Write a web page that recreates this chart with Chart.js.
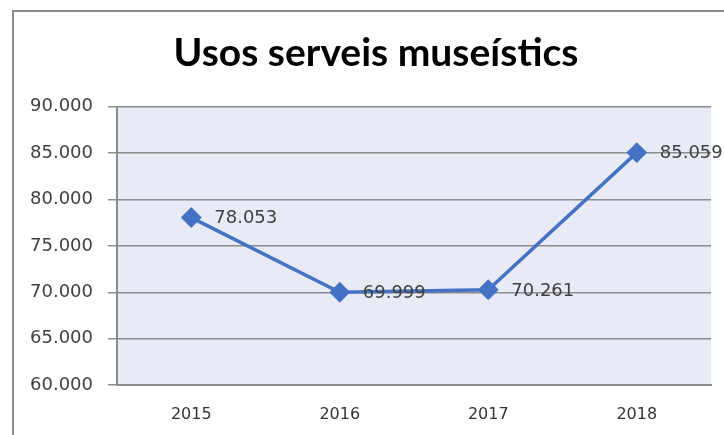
<!DOCTYPE html>
<html>
<head>
<meta charset="utf-8">
<script src="https://cdn.jsdelivr.net/npm/chart.js@4.4.0/dist/chart.umd.min.js"></script>
<style>
  html, body { margin: 0; padding: 0; background: #fff; overflow: hidden; }
  .frame {
    position: absolute; left: 12px; top: 10px; width: 740px; height: 460px;
    border: 2px solid #8c8c8c; box-sizing: border-box;
  }
  .wrap { position: absolute; left: 0; top: 0; width: 724px; height: 435px; }
</style>
</head>
<body>
<div class="frame"></div>
<div class="wrap"><canvas id="chart" width="724" height="435"></canvas></div>
<script>
'use strict'

const years = ["2015", "2016", "2017", "2018"]
const usos = [78053, 69999, 70261, 85059]
const yTicks = [60000, 65000, 70000, 75000, 80000, 85000, 90000]

// 90000 -> "90.000"
const fmtTick = v => {
    const s = String(Math.round(v))
    return s.slice(0, s.length - 3) + '.' + s.slice(-3)
}

// light lavender plot background, plus nudge the title so it is centred inside the frame
const plotBg = {
    id: 'plotBg',
    afterLayout(chart) {
        if (chart.titleBlock) {
            chart.titleBlock.left = 41
            chart.titleBlock.right = chart.chartArea.right
        }
    },
    beforeDraw(chart) {
        const { ctx, chartArea } = chart
        ctx.save()
        ctx.fillStyle = '#e8ebf5'
        ctx.fillRect(chartArea.left, chartArea.top, chartArea.right - chartArea.left, chartArea.bottom - chartArea.top)
        ctx.restore()
    }
}

// value labels to the right of each point
const valueLabels = {
    id: 'valueLabels',
    afterDatasetsDraw(chart) {
        const { ctx } = chart
        const meta = chart.getDatasetMeta(0)
        ctx.save()
        ctx.font = '18px "DejaVu Sans"'
        ctx.fillStyle = '#404040'
        ctx.textAlign = 'left'
        ctx.textBaseline = 'middle'
        meta.data.forEach((pt, i) => {
            ctx.fillText(fmtTick(usos[i]), pt.x + 23, pt.y + 1)
        })
        ctx.restore()
    }
}

new Chart(document.getElementById('chart'), {
    type: 'line',
    data: {
        labels: years,
        datasets: [{
            label: 'Usos',
            data: usos,
            borderColor: '#4472c4',
            backgroundColor: '#4472c4',
            borderWidth: 3.5,
            pointStyle: 'rectRot',
            pointRadius: 8,
            pointHoverRadius: 8,
            tension: 0,
            fill: false
        }]
    },
    options: {
        responsive: false,
        animation: false,
        layout: { padding: { left: 0, right: 13, top: 0, bottom: 0 } },
        plugins: {
            legend: { display: false },
            tooltip: { enabled: false },
            title: {
                display: true,
                text: 'Usos serveis museístics',
                color: '#000',
                font: { family: 'Lato', size: 39, weight: 'bold', lineHeight: 1.2 },
                padding: { top: 30, bottom: 30 }
            }
        },
        scales: {
            x: {
                offset: true,
                grid: { display: false, drawTicks: false },
                border: { display: true, color: '#8c8c8c', width: 2 },
                ticks: {
                    color: '#333',
                    font: { family: 'DejaVu Sans', size: 16 },
                    padding: 20,
                    maxRotation: 0
                },
                afterFit(scale) { scale.height = 50 }
            },
            y: {
                min: 60000,
                max: 90000,
                afterBuildTicks(scale) { scale.ticks = yTicks.map(v => ({ value: v })) },
                grid: { color: '#8c8c8c', lineWidth: 1.5, tickLength: 9, drawTicks: true },
                border: { display: true, color: '#8c8c8c', width: 2 },
                ticks: {
                    color: '#404040',
                    font: { family: 'DejaVu Sans', size: 18 },
                    padding: 15,
                    callback: v => fmtTick(v)
                },
                afterFit(scale) { scale.width = 117 }
            }
        }
    },
    plugins: [plotBg, valueLabels]
})
</script>
</body>
</html>
